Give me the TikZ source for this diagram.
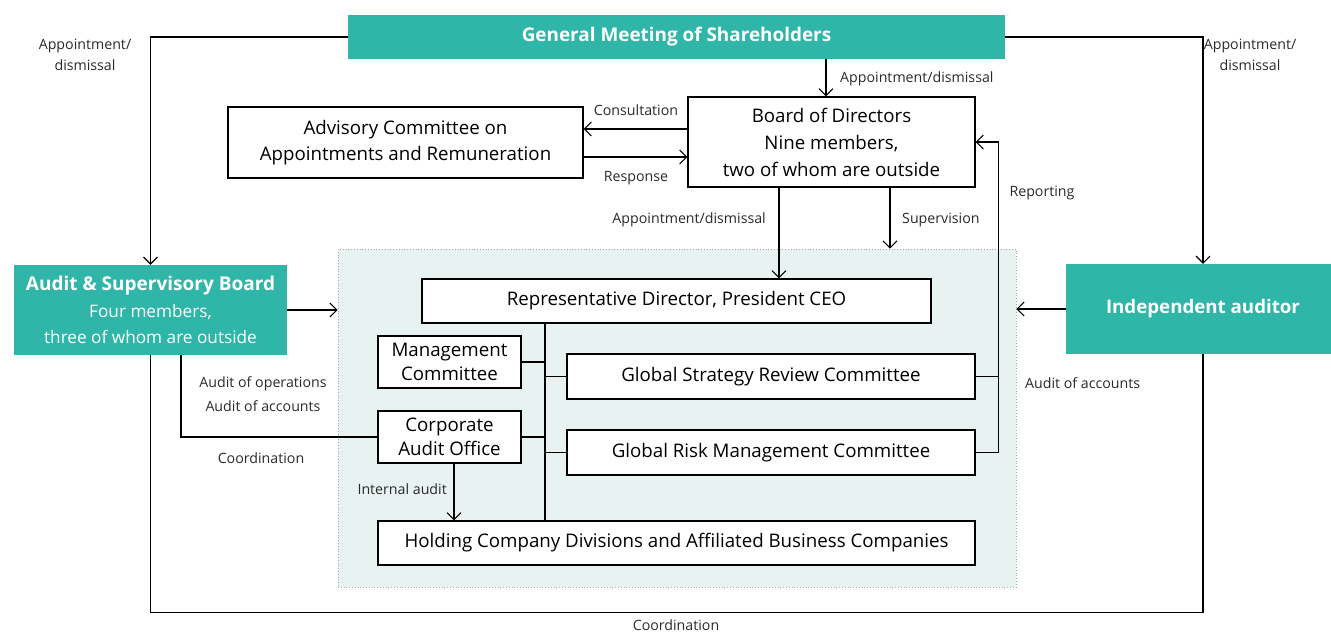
\documentclass[tikz,border=0pt]{standalone}
\usepackage{fontspec}
\setmainfont{Open Sans}
\usetikzlibrary{arrows.meta}
\definecolor{teal1}{HTML}{2FB6A9}
\definecolor{grpfill}{HTML}{E8F3F1}
\definecolor{lblc}{HTML}{2A2A2A}
\begin{document}
\begin{tikzpicture}[x=1pt,y=-1pt,
  arr/.style={-{Straight Barb[length=7pt,width=14pt]}},
  ln/.style={line width=1.1pt, draw=black},
  box/.style={draw=black, line width=1.1pt, fill=white, align=center, inner sep=0pt, font=\fontsize{18.7}{27}\selectfont},
  tbox/.style={fill=teal1, text=white, align=center, inner sep=0pt},
  lbl/.style={text=lblc, align=center, inner sep=0pt, font=\fontsize{14.2}{21}\selectfont}]
\useasboundingbox (0,0) rectangle (1331,634);
\node[draw=gray!70, dotted, line width=0.8pt, fill=grpfill, minimum width=678pt, minimum height=338pt, inner sep=0pt] (grp) at (677,418) {};
% teal boxes
\node[tbox, minimum width=657pt, minimum height=44pt, font=\bfseries\fontsize{18.9}{22}\selectfont] (gms) at (676.5,37) {General Meeting of Shareholders};
\node[tbox, minimum width=273pt, minimum height=90pt, font=\fontsize{17.2}{26.5}\selectfont] (asb) at (150.5,310) {{\bfseries\fontsize{19}{26.5}\selectfont Audit \& Supervisory Board}\\Four members,\\three of whom are outside};
\node[tbox, minimum width=274pt, minimum height=90pt, font=\bfseries\fontsize{18.7}{22}\selectfont] (ia) at (1203,309) {Independent auditor};
% white boxes
\node[box, minimum width=287pt, minimum height=90pt] (bod) at (831.5,142) {Board of Directors\\Nine members,\\two of whom are outside};
\node[box, minimum width=355pt, minimum height=71pt, font=\fontsize{18.7}{26}\selectfont] (adv) at (405.5,142.5) {Advisory Committee on\\Appointments and Remuneration};
\node[box, minimum width=509pt, minimum height=44pt] (rep) at (676.5,301) {Representative Director, President CEO};
\node[box, minimum width=143pt, minimum height=52pt, font=\fontsize{18.7}{24}\selectfont] (mc) at (449.5,362) {Management\\Committee};
\node[box, minimum width=143pt, minimum height=52pt, font=\fontsize{18.7}{24}\selectfont] (cao) at (449.5,437) {Corporate\\Audit Office};
\node[box, minimum width=408pt, minimum height=45pt] (gsr) at (771,376.5) {Global Strategy Review Committee};
\node[box, minimum width=408pt, minimum height=45pt] (grm) at (771,452.5) {Global Risk Management Committee};
\node[box, minimum width=597pt, minimum height=44pt] (hold) at (676.5,543) {Holding Company Divisions and Affiliated Business Companies};
\coordinate (tr) at (545,0);
% connectors
\draw[ln,arr] (gms.west) -| (asb.north);
\draw[ln,arr] (gms.east) -| (ia.north);
\draw[ln,arr] ([xshift=-5.5pt]bod.north |- gms.south) -- ([xshift=-5.5pt]bod.north);
\draw[ln,arr] ([yshift=13pt]bod.west) -- ([yshift=13pt]bod.west -| adv.east);
\draw[ln,arr] ([yshift=-15pt]bod.west -| adv.east) -- ([yshift=-15pt]bod.west);
\draw[ln,arr] ([xshift=-52.5pt]bod.south) -- ([xshift=-52.5pt]bod.south |- rep.north);
\draw[ln,arr] ([xshift=58.5pt]bod.south) -- ([xshift=58.5pt]bod.south |- grp.north);
\draw[ln,arr] (grm.east) -- ++(23,0) |- (bod.east);
\draw[ln] (gsr.east) -- ++(23,0);
\draw[ln,arr] (asb.east) -- (asb.east -| grp.west);
\draw[ln,arr] (ia.west) -- (ia.west -| grp.east);
\draw[ln] (asb.south) -- ++(0,257) -| (ia.south);
\draw[ln] ([xshift=30.5pt]asb.south) |- (cao.west);
\draw[ln] (rep.south -| tr) -- (hold.north -| tr);
\draw[ln] (mc.east) -- (mc.east -| tr);
\draw[ln] (cao.east) -- (cao.east -| tr);
\draw[ln] (gsr.west) -- (gsr.west -| tr);
\draw[ln] (grm.west) -- (grm.west -| tr);
\draw[ln,arr] ([xshift=4.5pt]cao.south) -- ([xshift=4.5pt]cao.south |- hold.north);
% labels
\node[lbl] (l1) at (85,55) {Appointment/\\dismissal};
\node[lbl] (l2) at (1250,55) {Appointment/\\dismissal};
\node[lbl, anchor=west] (l3) at (840,79) {Appointment/dismissal};
\node[lbl] (l4) at (636,110) {Consultation};
\node[lbl] (l5) at (636,178) {Response};
\node[lbl, anchor=east] (l6) at (766,220) {Appointment/dismissal};
\node[lbl, anchor=west] (l7) at (902,220) {Supervision};
\node[lbl] (l8) at (1042,193) {Reporting};
\node[lbl, anchor=west] (l9) at (1025,383) {Audit of accounts};
\node[lbl, font=\fontsize{14.2}{24}\selectfont] (l10) at (263,394) {Audit of operations\\Audit of accounts};
\node[lbl] (l11) at (261,458) {Coordination};
\node[lbl, anchor=east] (l12) at (447,489) {Internal audit};
\node[lbl] (l13) at (676,625) {Coordination};
\end{tikzpicture}
\end{document}
